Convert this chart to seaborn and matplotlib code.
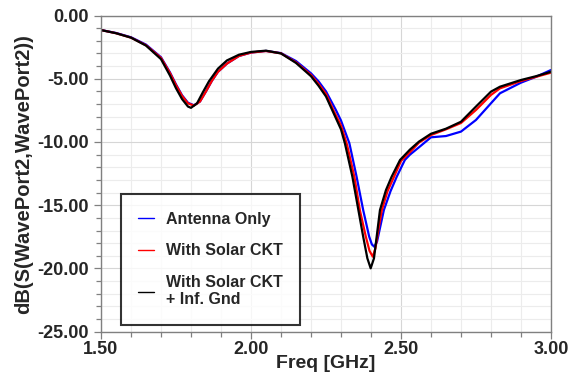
import numpy as np
import pandas as pd
import matplotlib
matplotlib.use("Agg")
import matplotlib.pyplot as plt
from matplotlib.ticker import MultipleLocator, FormatStrFormatter
import seaborn as sns

# ---- data ----
freq_blue = [1.50, 1.55, 1.60, 1.65, 1.70, 1.73, 1.75, 1.77, 1.79, 1.81, 1.83, 1.85, 1.87, 1.89,
             1.92, 1.96, 2.00, 2.05, 2.10, 2.15, 2.20, 2.225, 2.25, 2.283, 2.30, 2.328, 2.352,
             2.374, 2.394, 2.403, 2.411, 2.42, 2.43, 2.443, 2.465, 2.486, 2.513, 2.53, 2.56,
             2.60, 2.65, 2.70, 2.75, 2.80, 2.83, 2.90, 2.95, 3.00]
db_blue = [-1.15, -1.38, -1.72, -2.30, -3.30, -4.50, -5.45, -6.30, -6.90, -7.10, -6.80, -6.00,
           -5.15, -4.45, -3.80, -3.20, -2.93, -2.80, -2.97, -3.60, -4.57, -5.20, -6.00, -7.47,
           -8.30, -10.10, -12.74, -15.38, -17.48, -18.10, -18.28, -17.90, -16.80, -15.38,
           -13.90, -12.74, -11.42, -11.00, -10.42, -9.63, -9.53, -9.18, -8.26, -6.94, -6.15,
           -5.31, -4.85, -4.31]

freq_red = [1.50, 1.55, 1.60, 1.65, 1.70, 1.73, 1.75, 1.77, 1.79, 1.81, 1.83, 1.85, 1.87, 1.89,
            1.92, 1.96, 2.00, 2.05, 2.10, 2.15, 2.20, 2.225, 2.25, 2.275, 2.30, 2.32, 2.345,
            2.363, 2.383, 2.395, 2.406, 2.415, 2.425, 2.436, 2.455, 2.477, 2.50, 2.53, 2.56,
            2.60, 2.65, 2.70, 2.75, 2.80, 2.83, 2.90, 2.95, 3.00]
db_red = [-1.15, -1.40, -1.75, -2.35, -3.35, -4.55, -5.50, -6.35, -6.95, -7.12, -6.80, -6.00,
          -5.15, -4.45, -3.80, -3.20, -2.93, -2.81, -2.99, -3.70, -4.70, -5.40, -6.20, -7.50,
          -8.70, -10.20, -12.80, -15.40, -17.50, -18.60, -19.07, -18.40, -16.90, -15.40,
          -13.90, -12.74, -11.50, -10.80, -10.05, -9.45, -9.00, -8.50, -7.47, -6.28, -5.76,
          -5.18, -4.85, -4.52]

freq_black = [1.50, 1.55, 1.60, 1.65, 1.70, 1.73, 1.75, 1.77, 1.79, 1.80, 1.82, 1.84, 1.86, 1.89,
              1.92, 1.96, 2.00, 2.05, 2.10, 2.15, 2.20, 2.225, 2.25, 2.275, 2.30, 2.313, 2.338,
              2.358, 2.374, 2.388, 2.399, 2.41, 2.42, 2.43, 2.45, 2.469, 2.497, 2.53, 2.56,
              2.60, 2.65, 2.70, 2.75, 2.80, 2.83, 2.90, 2.95, 3.00]
db_black = [-1.15, -1.40, -1.75, -2.38, -3.45, -4.75, -5.75, -6.60, -7.20, -7.30, -6.95, -6.05,
            -5.20, -4.20, -3.55, -3.10, -2.88, -2.78, -3.00, -3.75, -4.80, -5.55, -6.40, -7.70,
            -9.00, -10.10, -12.74, -15.38, -17.48, -19.20, -19.99, -19.20, -17.30, -15.38,
            -13.80, -12.74, -11.42, -10.60, -9.97, -9.35, -8.95, -8.40, -7.20, -6.02, -5.63,
            -5.10, -4.80, -4.45]

series_names = ["Antenna Only", "With Solar CKT", "With Solar CKT\n+ Inf. Gnd"]
series_colors = ["#0000ff", "#ff0000", "#000000"]
x_ticks = [1.50, 2.00, 2.50, 3.00]
y_ticks = [0.0, -5.0, -10.0, -15.0, -20.0, -25.0]

df = pd.concat([
    pd.DataFrame({"Freq": freq_blue, "dB": db_blue, "series": series_names[0]}),
    pd.DataFrame({"Freq": freq_red, "dB": db_red, "series": series_names[1]}),
    pd.DataFrame({"Freq": freq_black, "dB": db_black, "series": series_names[2]}),
], ignore_index=True)

sns.set_theme(style="white")
plt.rcParams["font.family"] = ["Liberation Sans", "DejaVu Sans"]
plt.rcParams["font.weight"] = "bold"

fig = plt.figure(figsize=(5.68, 3.79), dpi=100)
ax = fig.add_axes([0.1778, 0.1248, 0.7922, 0.8343])

sns.lineplot(data=df, x="Freq", y="dB", hue="series", hue_order=series_names,
             palette=dict(zip(series_names, series_colors)), sort=False,
             linewidth=1.6, ax=ax, estimator=None)

ax.set_xlim(1.5, 3.0)
ax.set_ylim(-25, 0)
ax.set_xticks(x_ticks)
ax.set_yticks(y_ticks)
ax.xaxis.set_minor_locator(MultipleLocator(0.1))
ax.yaxis.set_minor_locator(MultipleLocator(1.0))
ax.xaxis.set_major_formatter(FormatStrFormatter("%.2f"))
ax.yaxis.set_major_formatter(FormatStrFormatter("%.2f"))

ax.grid(which="major", color="#d6d6d6", linewidth=0.8)
ax.grid(which="minor", color="#ececec", linewidth=0.8)
ax.set_axisbelow(True)

for s in ax.spines.values():
    s.set_color("#808080")
    s.set_linewidth(1.0)

ax.tick_params(axis="x", which="major", direction="out", length=5, width=0.9,
               color="#808080", labelsize=13, pad=1.5, bottom=True)
ax.tick_params(axis="y", which="major", direction="out", length=5, width=0.9,
               color="#808080", labelsize=13, pad=4, left=True)
ax.tick_params(axis="both", which="minor", direction="out", length=3.5, width=0.9,
               color="#808080", bottom=True, left=True)
for lab in ax.get_xticklabels() + ax.get_yticklabels():
    lab.set_fontweight("bold")

ax.set_xlabel("Freq [GHz]", fontsize=14, fontweight="bold", labelpad=-2)
ax.set_ylabel("dB(S(WavePort2,WavePort2))", fontsize=14.5, fontweight="bold", labelpad=3)

leg = ax.legend(loc="lower left", bbox_to_anchor=(0.044, 0.021), borderaxespad=0,
                frameon=True, fancybox=False, handlelength=1.0, handletextpad=0.7,
                labelspacing=1.05, borderpad=1.1, prop={"weight": "bold", "size": 11.5})
leg.get_frame().set_edgecolor("black")
leg.get_frame().set_linewidth(1.5)
for line in leg.get_lines():
    line.set_linewidth(1.0)

fig.savefig("out.png", dpi=100)
